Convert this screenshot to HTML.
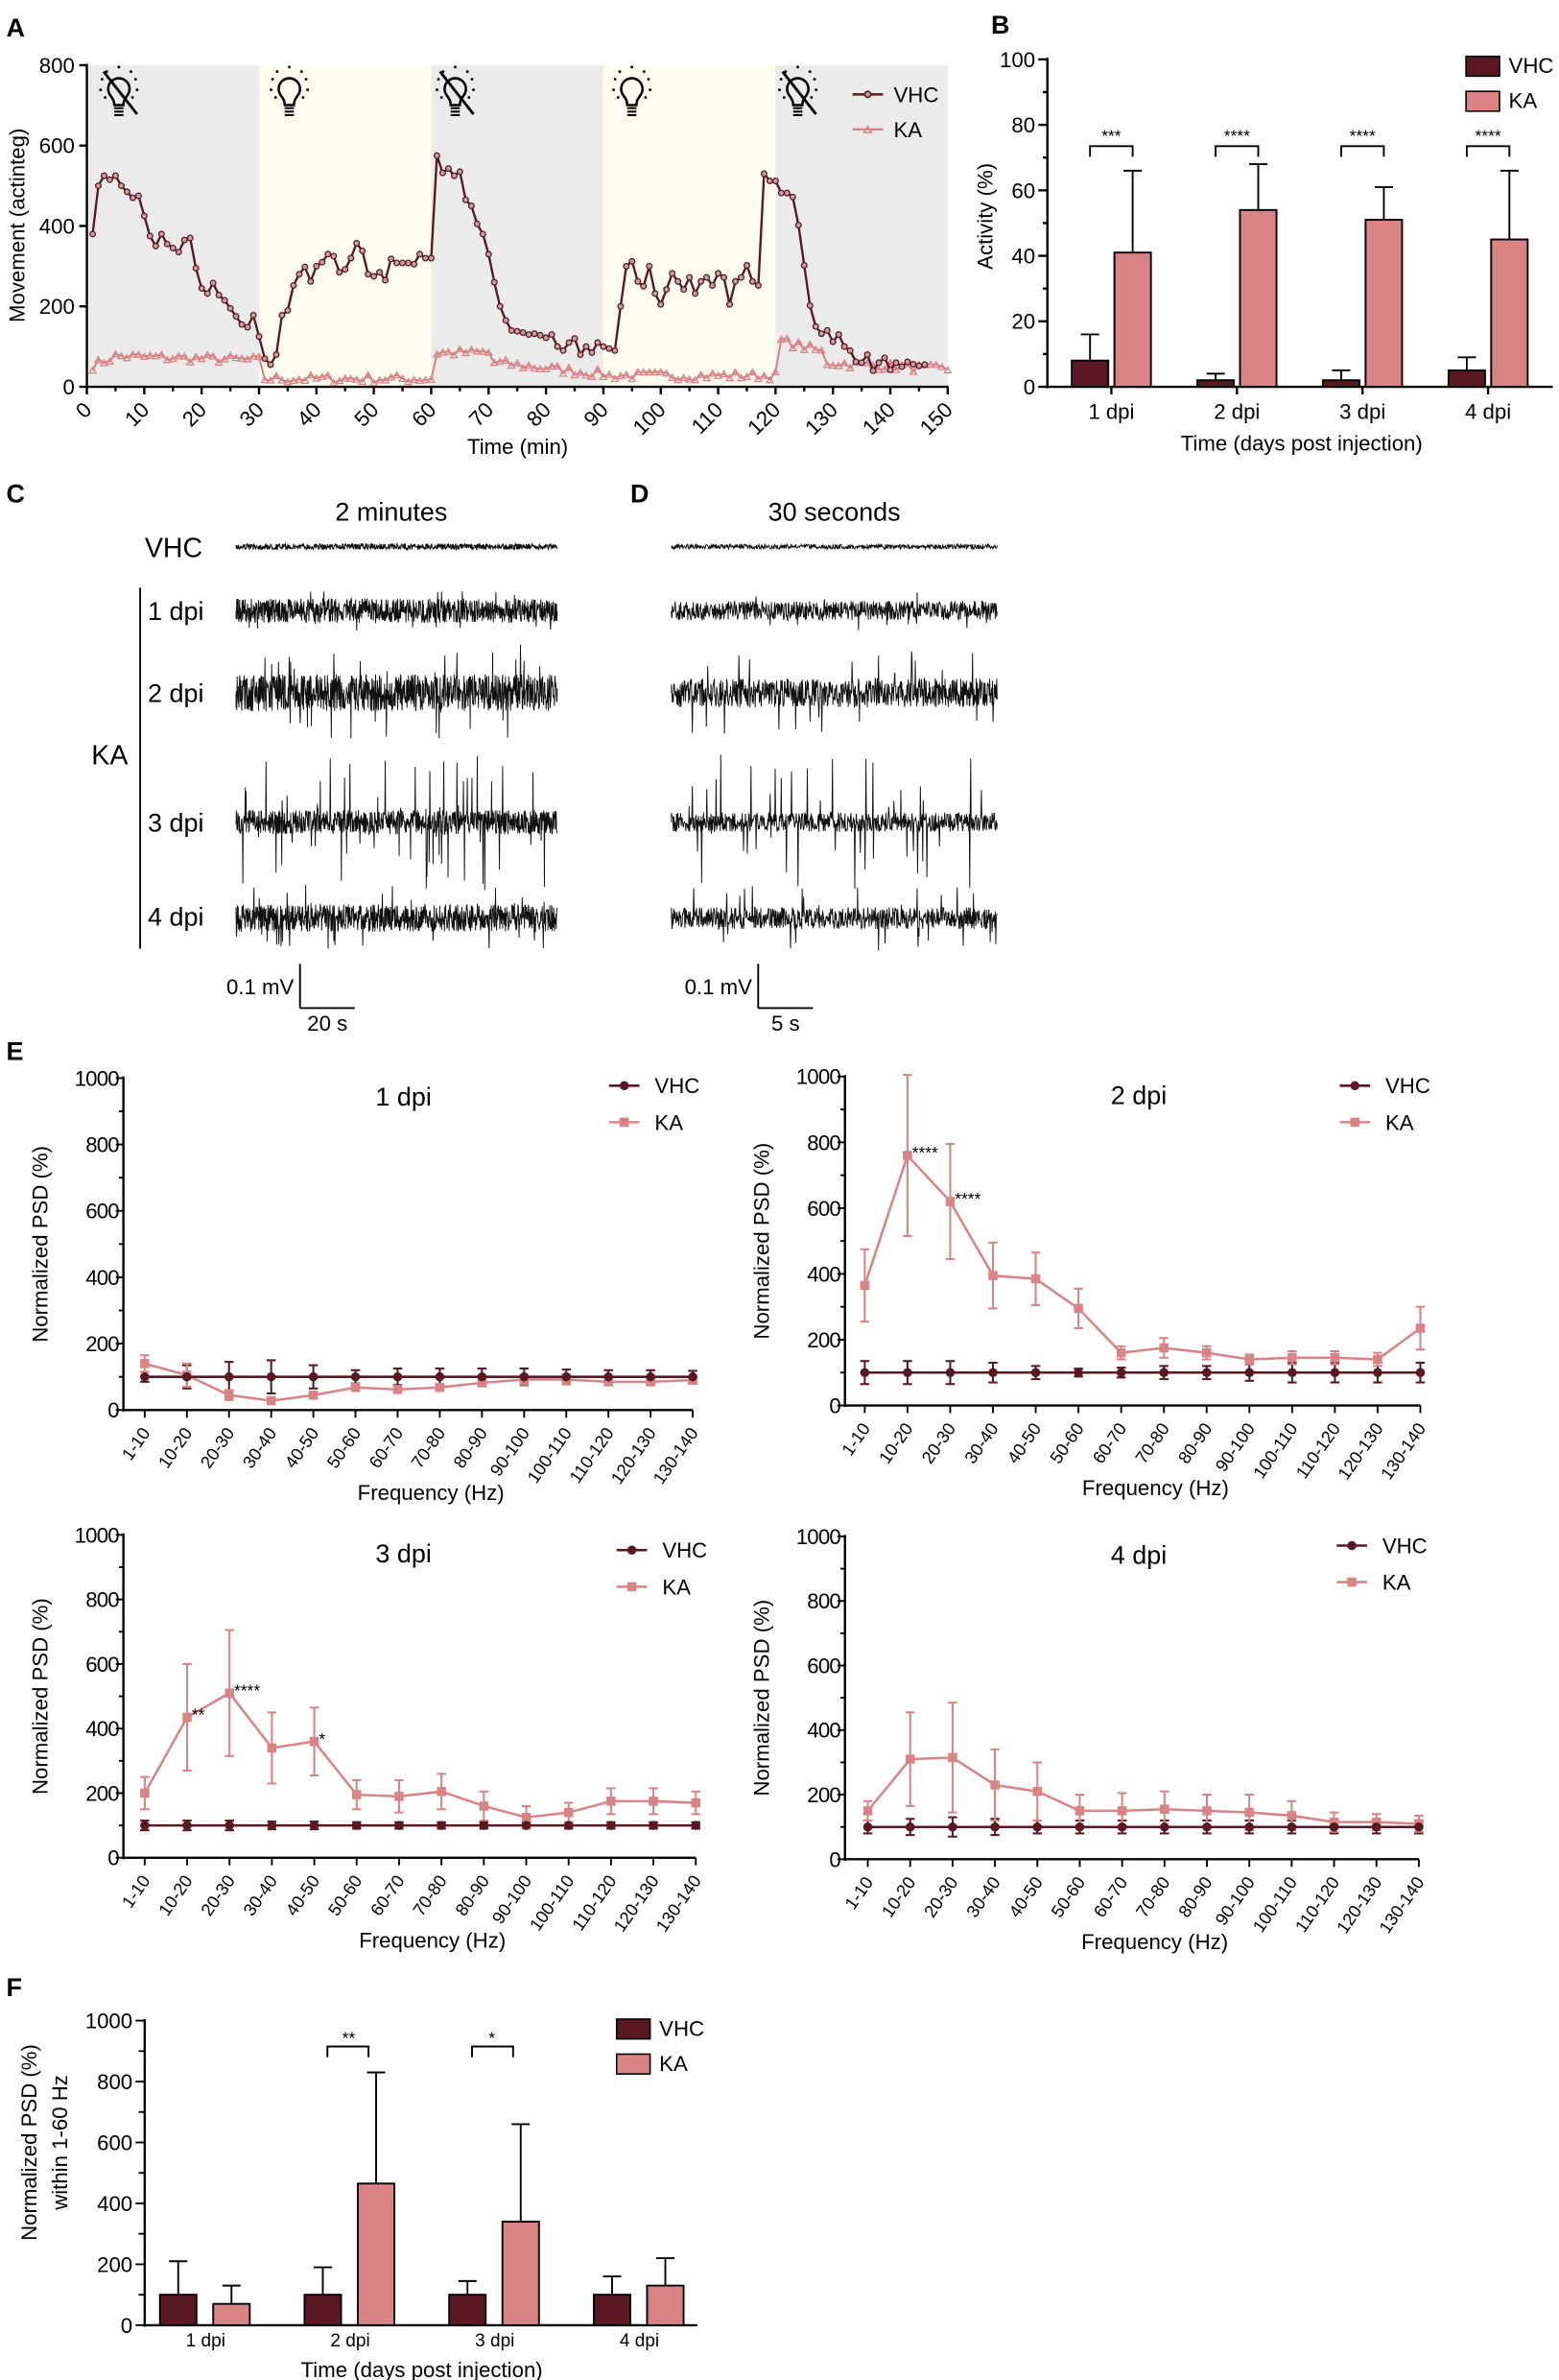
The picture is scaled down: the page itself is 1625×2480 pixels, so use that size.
<!DOCTYPE html>
<html><head><meta charset="utf-8"><style>html,body{margin:0;padding:0;background:#fff}svg{display:block}text{font-family:"Liberation Sans",Arial,sans-serif;fill:#000}</style></head>
<body>
<svg id="s" width="1625" height="2480" viewBox="0 0 1024 1563" xmlns="http://www.w3.org/2000/svg">
<text x="4" y="24" font-size="17" font-weight="bold">A</text>
<text x="651" y="22" font-size="17" font-weight="bold">B</text>
<text x="4" y="330" font-size="17" font-weight="bold">C</text>
<text x="414" y="330" font-size="17" font-weight="bold">D</text>
<text x="4" y="696" font-size="17" font-weight="bold">E</text>
<text x="4" y="1311" font-size="17" font-weight="bold">F</text>
<g id="g"></g>
</svg>
<script>
const NS="http://www.w3.org/2000/svg",G=document.getElementById('g');
function el(t,a,txt){const e=document.createElementNS(NS,t);for(const k in a)e.setAttribute(k,a[k]);if(txt!==undefined)e.textContent=txt;G.appendChild(e);return e;}
function line(x1,y1,x2,y2,c,w){return el('line',{x1,y1,x2,y2,stroke:c||'#000','stroke-width':w||1.5});}
function txt(x,y,s,size,anchor,extra){const a={x,y,'font-size':size||14,'text-anchor':anchor||'start'};Object.assign(a,extra||{});return el('text',a,s);}
let seed=7;function rnd(){seed=(seed*16807)%2147483647;return seed/2147483647;}
const DK='#5a1822',PK='#d98385';
// ===== Panel A =====
const ax=m=>57+m*3.77, ay=v=>254-v*0.264;
[[0,30,'#ebebeb'],[30,60,'#fdfcef'],[60,90,'#ebebeb'],[90,120,'#fdfcef'],[120,150,'#ebebeb']].forEach(r=>el('rect',{x:ax(r[0]),y:43,width:ax(r[1])-ax(r[0]),height:211,fill:r[2]}));
line(57,42,57,255);line(56,254,623,254);
[0,200,400,600,800].forEach(v=>{line(52,ay(v),57,ay(v));txt(49,ay(v)+5,v,14,'end');});
for(let m=0;m<=150;m+=5){line(ax(m),254,ax(m),m%10?257:259);}
for(let m=0;m<=150;m+=10){txt(ax(m)+4,270,m,14,'end',{transform:`rotate(-45 ${ax(m)+4} 270)`});}
txt(340,298,'Time (min)',14,'middle');
txt(16,148,'Movement (actinteg)',14,'middle',{transform:'rotate(-90 16 148)'});
const V=[380,500,525,515,525,500,485,470,475,425,375,350,380,355,345,335,365,370,295,245,232,258,228,215,195,175,155,148,178,125,70,55,80,178,190,252,280,298,262,300,310,330,325,285,292,320,357,338,280,275,285,265,318,308,308,308,305,330,320,320,575,532,543,525,535,465,450,405,380,330,260,200,165,140,138,135,130,132,128,122,130,100,90,110,120,80,100,85,110,100,95,90,200,300,312,262,250,300,232,205,242,282,262,242,272,232,262,272,252,282,272,205,262,272,302,262,252,530,512,512,482,482,472,402,302,202,150,132,140,112,130,100,90,62,60,80,40,60,72,42,60,50,62,56,52,55];
let pts=V.map((v,i)=>ax(i+1)+','+ay(v)).join(' ');
const K=[];for(let i=0;i<150;i++){let b=i<30?(i<5?52+i*6:78-i*0.4):i<60?20:i<90?(i<70?85:60-(i-70)*1.5):i<120?28:(i<128?115-(i-120)*4:60-(i-128)*0.8);K.push(Math.max(5,b+(rnd()-0.5)*22));}
el('polyline',{points:K.map((v,i)=>ax(i+1)+','+ay(v)).join(' '),fill:'none',stroke:PK,'stroke-width':1.3});
K.forEach((v,i)=>el('path',{d:`M${ax(i+1)-2.2},${ay(v)+1.8}L${ax(i+1)+2.2},${ay(v)+1.8}L${ax(i+1)},${ay(v)-2}Z`,fill:'none',stroke:PK,'stroke-width':0.8}));
el('polyline',{points:pts,fill:'none',stroke:DK,'stroke-width':1.5});
V.forEach((v,i)=>el('circle',{cx:ax(i+1),cy:ay(v),r:1.8,fill:'#c9a0a0',stroke:DK,'stroke-width':0.8}));
function bulb(x,y,off){el('path',{d:`M${x-6},${y+2}a7,7 0 1 1 12,0c-2,3 -3,4 -3,7h-6c0,-3 -1,-4 -3,-7z`,fill:'none',stroke:'#000','stroke-width':1.6});
 for(let k=0;k<3;k++)line(x-3,y+11+k*2.3,x+3,y+11+k*2.3,'#000',1.3);
 [[-11,-6],[-12,1],[-8,-11],[0,-14],[8,-11],[12,1],[11,-6],[-9,6],[9,6]].forEach(p=>el('circle',{cx:x+p[0],cy:y+p[1]-2,r:0.9,fill:'#000'}));
 if(off)line(x-10,y-13,x+12,y+15,'#000',1.8);}
bulb(78,60,1);bulb(190,60,0);bulb(299,60,1);bulb(415,60,0);bulb(524,60,1);
line(560,62,580,62,DK,1.5);el('circle',{cx:570,cy:62,r:2,fill:'#c9a0a0',stroke:DK});txt(587,67,'VHC',14);
line(560,85,580,85,PK,1.5);el('path',{d:'M567.5,87L572.5,87L570,83Z',fill:'none',stroke:PK});txt(587,90,'KA',14);
// ===== Panel B =====
const by=v=>254-v*2.15;
line(688,38,688,255);line(687,254,1020,254);
for(let v=0;v<=100;v+=20){line(682,by(v),688,by(v));txt(680,by(v)+5,v,14,'end');}
for(let v=10;v<=90;v+=20)line(685,by(v),688,by(v));
txt(652,142,'Activity (%)',14,'middle',{transform:'rotate(-90 652 142)'});
const B=[[8,16,41,66,'***'],[2,4,54,68,'****'],[2,5,51,61,'****'],[5,9,45,66,'****']];
B.forEach((d,i)=>{const c=730+i*82.5;
 [[c-26,d[0],d[1],DK],[c+2,d[2],d[3],PK]].forEach(b=>{el('rect',{x:b[0],y:by(b[1]),width:24,height:254-by(b[1]),fill:b[3],stroke:'#000','stroke-width':1.2});line(b[0]+12,by(b[1]),b[0]+12,by(b[2]),'#000',1.2);line(b[0]+6,by(b[2]),b[0]+18,by(b[2]),'#000',1.2);});
 el('path',{d:`M${c-14},103V96H${c+14}V103`,fill:'none',stroke:'#000','stroke-width':1.2});txt(c,93,d[4],11,'middle');
 line(c,254,c,259);txt(c,275,(i+1)+' dpi',14,'middle');});
txt(855,296,'Time (days post injection)',14,'middle');
el('rect',{x:963,y:37,width:22,height:13,fill:DK,stroke:'#000'});txt(991,48,'VHC',14);
el('rect',{x:963,y:60,width:22,height:13,fill:PK,stroke:'#000'});txt(991,71,'KA',14);
// ===== Panels C, D =====
txt(257,342,'2 minutes',17,'middle');txt(548,342,'30 seconds',17,'middle');
txt(95,366,'VHC',18);txt(97,407,'1 dpi',17);txt(97,461,'2 dpi',17);txt(60,502,'KA',18);txt(97,546,'3 dpi',17);txt(97,608,'4 dpi',17);
line(92,386,92,623,'#000',1.2);
function trace(x0,x1,yc,amp,spk,spkA,n){let d='M'+x0+','+yc;for(let i=0;i<=n;i++){const x=x0+(x1-x0)*i/n;let a=(rnd()*2-1)*amp;if(rnd()<spk)a=(rnd()*2-1)*spkA;d+='L'+x.toFixed(2)+','+(yc+a).toFixed(2);}el('path',{d,fill:'none',stroke:'#111','stroke-width':0.6});}
const rows=[[359,2,0,0],[401,8,0.05,13],[455,12,0.06,32],[540,8,0.08,45],[603,9,0.06,22]];
rows.forEach(r=>{trace(155,366,r[0],r[1],r[2],r[3],900);trace(441,655,r[0],r[1]*0.8,r[2]*0.8,r[3],700);});
line(197,633,197,662,'#000',1.2);line(197,662,233,662,'#000',1.2);txt(193,653,'0.1 mV',14,'end');txt(215,677,'20 s',14,'middle');
line(498,633,498,662,'#000',1.2);line(498,662,534,662,'#000',1.2);txt(494,653,'0.1 mV',14,'end');txt(516,677,'5 s',14,'middle');
// ===== Panel E =====
const cats=['1-10','10-20','20-30','30-40','40-50','50-60','60-70','70-80','80-90','90-100','100-110','110-120','120-130','130-140'];
function psd(o){const {axx,y0,y1,cx0,cx1,title,ka,kae,vhe,stars,lx,ly}=o;const sy=v=>y0-(y0-y1)*v/1000,sx=i=>cx0+(cx1-cx0)*i/13;
 line(axx,y1-1,axx,y0+1,'#000',1.5);line(axx-1,y0,cx1,y0,'#000',1.5);
 for(let v=0;v<=1000;v+=100){line(axx-(v%200?3:5),sy(v),axx,sy(v),'#000',1.2);if(v%200==0)txt(axx-3,sy(v)+5,v,14,'end',{'letter-spacing':'-0.5'});}
 txt(axx-50,(y0+y1)/2,'Normalized PSD (%)',14,'middle',{transform:`rotate(-90 ${axx-50} ${(y0+y1)/2})`});
 txt((axx+cx1)/2+15,y0+59,'Frequency (Hz)',14,'middle');
 txt(o.tx,y1+18,title,17,'middle');
 cats.forEach((c,i)=>{line(sx(i),y0,sx(i),y0+5,'#000',1.2);txt(sx(i)+4,y0+15,c,11.5,'end',{transform:`rotate(-55 ${sx(i)+4} ${y0+15})`});});
 // VHC
 cats.forEach((c,i)=>{const e=vhe[i];line(sx(i),sy(100-e),sx(i),sy(100+e),DK,1.3);line(sx(i)-3,sy(100+e),sx(i)+3,sy(100+e),DK,1.3);line(sx(i)-3,sy(100-e),sx(i)+3,sy(100-e),DK,1.3);});
 // KA
 cats.forEach((c,i)=>{const e=kae[i];line(sx(i),sy(ka[i]-e),sx(i),sy(ka[i]+e),PK,1.3);line(sx(i)-3,sy(ka[i]+e),sx(i)+3,sy(ka[i]+e),PK,1.3);line(sx(i)-3,sy(ka[i]-e),sx(i)+3,sy(ka[i]-e),PK,1.3);});
 el('polyline',{points:ka.map((v,i)=>sx(i)+','+sy(v)).join(' '),fill:'none',stroke:PK,'stroke-width':1.6});
 ka.forEach((v,i)=>el('rect',{x:sx(i)-3,y:sy(v)-3,width:6,height:6,fill:PK}));
 line(sx(0),sy(100),sx(13),sy(100),DK,1.6);
 cats.forEach((c,i)=>el('circle',{cx:sx(i),cy:sy(100),r:3,fill:DK}));
 (stars||[]).forEach(s=>txt(sx(s[0])+3,sy(ka[s[0]])+2,s[1],11));
 line(lx,ly,lx+20,ly,DK,1.6);el('circle',{cx:lx+10,cy:ly,r:3,fill:DK});txt(lx+30,ly+5,'VHC',14);
 line(lx,ly+24,lx+20,ly+24,PK,1.6);el('rect',{x:lx+7,y:ly+21,width:6,height:6,fill:PK});txt(lx+30,ly+29,'KA',14);
}
const ve1=[15,35,45,50,35,20,25,25,25,25,22,20,20,18];
psd({axx:81,y0:926,y1:708,cx0:95,cx1:455,tx:265,title:'1 dpi',ka:[140,105,45,28,45,68,62,68,82,92,92,85,85,90],kae:[25,35,15,8,8,10,8,10,8,15,15,10,10,10],vhe:ve1,lx:400,ly:713});
psd({axx:555,y0:923,y1:707,cx0:568,cx1:933,tx:748,title:'2 dpi',ka:[365,760,620,395,385,295,160,175,160,140,145,145,140,235],kae:[110,245,175,100,80,60,20,30,20,15,20,20,20,65],vhe:[35,35,35,30,20,12,15,20,20,25,30,30,30,30],stars:[[1,'****'],[2,'****']],lx:880,ly:713});
psd({axx:81,y0:1220,y1:1008,cx0:95,cx1:457,tx:265,title:'3 dpi',ka:[200,435,510,340,360,195,190,205,160,125,140,175,175,170],kae:[50,165,195,110,105,45,50,55,45,35,30,40,40,35],vhe:[15,15,15,12,12,10,10,10,10,10,10,10,10,10],stars:[[1,'**'],[2,'****'],[4,'*']],lx:405,ly:1018});
psd({axx:555,y0:1221,y1:1009,cx0:570,cx1:932,tx:748,title:'4 dpi',ka:[150,310,315,230,210,150,150,155,150,145,135,115,115,110],kae:[30,145,170,110,90,50,55,55,50,55,45,30,25,25],vhe:[20,25,30,25,20,20,20,20,20,20,20,20,20,20],lx:878,ly:1015});
// ===== Panel F =====
const fy=v=>1527-v*0.2;
line(95,1326,95,1528);line(94,1527,458,1527);
for(let v=0;v<=1000;v+=100){line(v%200?91:89,fy(v),95,fy(v),'#000',1.2);if(v%200==0)txt(87,fy(v)+5,v,14,'end');}
txt(24,1407,'Normalized PSD (%)',14,'middle',{transform:'rotate(-90 24 1407)'});
txt(44,1407,'within 1-60 Hz',14,'middle',{transform:'rotate(-90 44 1407)'});
const F=[[100,210,70,130],[100,190,465,830],[100,145,340,660],[100,160,130,220]];
F.forEach((d,i)=>{const c=135+i*95;
 [[c-30,d[0],d[1],DK],[c+5,d[2],d[3],PK]].forEach(b=>{el('rect',{x:b[0],y:fy(b[1]),width:24,height:1527-fy(b[1]),fill:b[3],stroke:'#000','stroke-width':1.2});line(b[0]+12,fy(b[1]),b[0]+12,fy(b[2]),'#000',1.2);line(b[0]+6,fy(b[2]),b[0]+18,fy(b[2]),'#000',1.2);});
 txt(c,1541,(i+1)+' dpi',12,'middle');});
el('path',{d:'M215,1351V1344H242V1351',fill:'none',stroke:'#000','stroke-width':1.2});txt(229,1342,'**',11,'middle');
el('path',{d:'M310,1351V1344H337V1351',fill:'none',stroke:'#000','stroke-width':1.2});txt(323,1342,'*',11,'middle');
txt(277,1561,'Time (days post injection)',14,'middle');
el('rect',{x:405,y:1326,width:22,height:13,fill:DK,stroke:'#000'});txt(433,1337,'VHC',14);
el('rect',{x:405,y:1349,width:22,height:13,fill:PK,stroke:'#000'});txt(433,1360,'KA',14);
</script>
</body></html>
